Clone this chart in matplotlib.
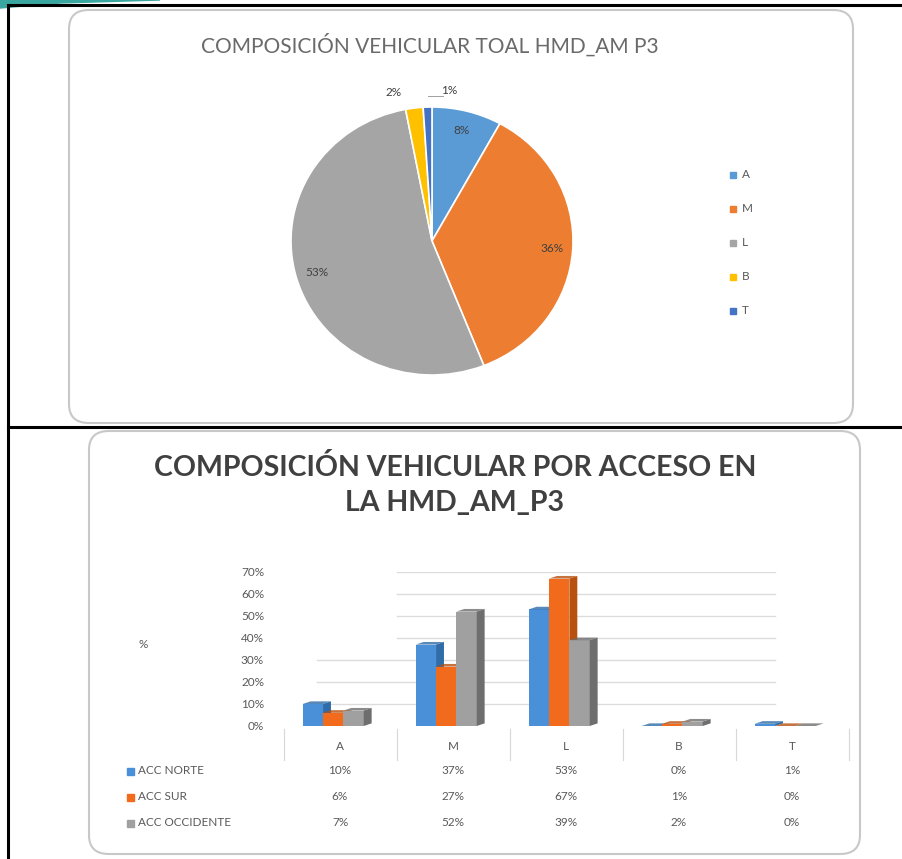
import matplotlib
matplotlib.use("Agg")
import matplotlib.pyplot as plt
import numpy as np
from matplotlib.patches import FancyBboxPatch, Polygon, Rectangle
from matplotlib.lines import Line2D
from matplotlib.transforms import blended_transform_factory

plt.rcParams['font.family'] = ['Lato', 'DejaVu Sans']

# ---------------- data ----------------
categories = ["A", "M", "L", "B", "T"]
pie_values = [8, 36, 53, 2, 1]
pie_title = "COMPOSICIÓN VEHICULAR TOAL HMD_AM P3"

series_names = ["ACC NORTE", "ACC SUR", "ACC OCCIDENTE"]
acc_norte = [0.10, 0.37, 0.53, 0.00, 0.01]
acc_sur = [0.06, 0.27, 0.67, 0.01, 0.00]
acc_occidente = [0.07, 0.52, 0.39, 0.02, 0.00]
bar_title = "COMPOSICIÓN VEHICULAR POR ACCESO EN\nLA HMD_AM_P3"
y_ticks = [0, 0.1, 0.2, 0.3, 0.4, 0.5, 0.6, 0.7]

pie_colors = ["#5B9BD5", "#ED7D31", "#A5A5A5", "#FFC000", "#4472C4"]
bar_colors = ["#4A90D9", "#F26B1D", "#A0A0A0"]
side_colors = ["#2F6CA8", "#B8500F", "#6E6E6E"]

W, H = 902, 859
fig = plt.figure(figsize=(W / 100, H / 100), dpi=100)
fig.patch.set_facecolor("white")

def fx(px):
    return px / W

def fy(py):
    return 1 - py / H

# ---------- decorations: frame, panels ----------
teal = Polygon([[fx(0), fy(0)], [fx(160), fy(0)], [fx(60), fy(3)], [fx(0), fy(8)]],
               closed=True, transform=fig.transFigure, color="#3AA6A0", zorder=-2)
fig.patches.append(teal)
for (x0, y0, x1, y1) in [(8, 5, 902, 5), (8, 427, 902, 427), (8, 5, 8, 859)]:
    fig.add_artist(Line2D([fx(x0), fx(x1)], [fy(y0), fy(y1)], color="black", lw=2.2,
                          transform=fig.transFigure, zorder=-1))

for (x0, y0, x1, y1) in [(69, 10, 853, 423), (89, 431, 860, 854)]:
    box = FancyBboxPatch((fx(x0), fy(y1)), fx(x1) - fx(x0), fy(y0) - fy(y1),
                         boxstyle="round,pad=0,rounding_size=0.022",
                         transform=fig.transFigure, facecolor="white",
                         edgecolor="#C8C8C8", lw=1.5, zorder=-1)
    fig.patches.append(box)

# ---------------- pie ----------------
cx, cy, rx, ry = 432, 241, 141, 134
axp = fig.add_axes([fx(cx - rx), fy(cy + ry), fx(2 * rx), (2 * ry) / H])
wedges, _ = axp.pie(pie_values, colors=pie_colors, startangle=90, counterclock=False,
                    wedgeprops=dict(edgecolor="white", linewidth=1.2))
axp.set_aspect("auto")
axp.set_xlim(-1, 1)
axp.set_ylim(-1, 1)
for i, (wd, v) in enumerate(zip(wedges, pie_values)):
    ang = np.deg2rad((wd.theta1 + wd.theta2) / 2)
    if v >= 5:
        d = 0.85
        axp.text(d * np.cos(ang), d * np.sin(ang), f"{v}%", ha="center", va="center",
                 fontsize=8.5, color="#404040")
    else:
        d = 1.12
        xoff = -0.13 if i == 3 else 0.16
        axp.text(d * np.cos(ang) + xoff, d * np.sin(ang), f"{v}%", ha="center",
                 va="center", fontsize=8.5, color="#404040")
axp.plot([-0.03, 0.08], [1.08, 1.08], color="#A0A0A0", lw=0.7, clip_on=False)

fig.text(fx(430), fy(45), pie_title, ha="center", va="center", fontsize=15,
         color="#6A6A6A")

leg_y = [175, 209, 243, 277, 311]
for lab, col, yy in zip(categories, pie_colors, leg_y):
    fig.patches.append(Rectangle((fx(730), fy(yy + 3)), fx(6), 6 / H, color=col,
                                 transform=fig.transFigure))
    fig.text(fx(742), fy(yy), lab, ha="left", va="center", fontsize=8.5, color="#595959")

# ---------------- bars ----------------
ax_left, ax_right, ax_bottom, ax_top = 283.5, 848.5, 726, 572
ax = fig.add_axes([fx(ax_left), fy(ax_bottom), fx(ax_right - ax_left),
                   (ax_bottom - ax_top) / H])
ax.set_xlim(-0.5, 4.5)
ax.set_ylim(0, 0.7)
x = np.arange(len(categories))
bw = 0.18
series = [acc_norte, acc_sur, acc_occidente]
dxs, dys = 0.07, 0.012
for j, (vals, col, scol) in enumerate(zip(series, bar_colors, side_colors)):
    pos = x + (j - 1) * bw - 0.06
    ax.bar(pos, vals, width=bw, color=col, zorder=3 + j * 0.1, edgecolor="none")
    for p, v in zip(pos, vals):
        xr = p + bw / 2
        side = Polygon([[xr, 0], [xr + dxs, dys], [xr + dxs, v + dys], [xr, v]],
                       closed=True, facecolor=scol, edgecolor="none", zorder=3 + j * 0.1)
        top = Polygon([[xr - bw, v], [xr - bw + dxs, v + dys], [xr + dxs, v + dys], [xr, v]],
                      closed=True, facecolor=scol, alpha=0.8, edgecolor="none",
                      zorder=3 + j * 0.1)
        ax.add_patch(side)
        ax.add_patch(top)

for t in y_ticks[1:]:
    x0g = -0.2 if t <= 0.3 else 0.5
    ax.plot([x0g, 3.85], [t, t], color="#DCDCDC", lw=1, zorder=1)
ax.set_yticks(y_ticks)
ax.set_yticklabels([f"{int(round(t * 100))}%" for t in y_ticks], fontsize=8.5,
                   color="#595959")
ax.set_xticks([])
for s in ax.spines.values():
    s.set_visible(False)
ax.tick_params(axis="y", length=0, pad=14)
ax.patch.set_alpha(0)

fig.text(fx(143), fy(645), "%", ha="center", va="center", fontsize=8.5, color="#595959")

fig.text(fx(455), fy(485), bar_title, ha="center", va="center", fontsize=20.5,
         fontweight="bold", color="#404040", linespacing=1.4)

# ---------------- data table ----------------
tr = blended_transform_factory(ax.transData, fig.transFigure)
header_y = 746
row_y = [771, 797, 823]
for xi in np.arange(-0.5, 5.0, 1.0):
    ax.plot([xi, xi], [fy(729), fy(760)], transform=tr, color="#D8D8D8", lw=0.8,
            clip_on=False)
for xi, c in zip(x, categories):
    fig.text(xi, fy(header_y), c, transform=tr, ha="center", va="center", fontsize=8.5,
             color="#595959")
for name, vals, col, yy in zip(series_names, series, bar_colors, row_y):
    fig.patches.append(Rectangle((fx(127), fy(yy + 3.5)), fx(7), 7 / H, color=col,
                                 transform=fig.transFigure))
    fig.text(fx(138), fy(yy), name, ha="left", va="center", fontsize=8.5, color="#595959")
    for xi, v in zip(x, vals):
        fig.text(xi, fy(yy), f"{int(round(v * 100))}%", transform=tr, ha="center",
                 va="center", fontsize=8.5, color="#595959")

fig.savefig("out.png", dpi=100)
